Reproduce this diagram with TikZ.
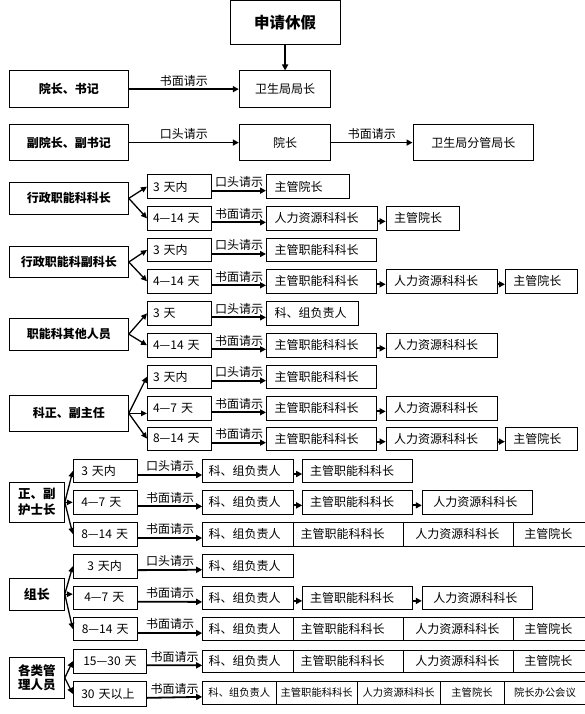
\documentclass[tikz,border=0pt]{standalone}
\usepackage{fontspec}
\setmainfont{Noto Sans CJK SC}
\usetikzlibrary{arrows.meta}
\tikzset{
  box/.style={draw, line width=1pt, inner ysep=0pt, font=\fontsize{12}{14}\selectfont},
  lbl/.style={above, inner sep=2.2pt, font=\fontsize{12}{14}\selectfont},
  arr/.style={line width=1.8pt, -{Triangle[length=6pt,width=6pt]}},
  fan/.style={line width=1.3pt, -{Triangle[length=6pt,width=5.5pt]}},
  hd/.style={font=\bfseries\fontsize{12}{14}\selectfont},
  sm/.style={font=\fontsize{10.3}{12}\selectfont},
}
% left-aligned box: [opts]{name}{x1}{y1}{x2}{y2}{pad}{text}
\newcommand{\bxl}[8][]{\pgfmathsetmacro{\mybw}{#5-#3}\pgfmathsetmacro{\mybh}{#6-#4}\pgfmathsetmacro{\mytw}{#5-#3-2*#7}%
  \node[box, #1, minimum width=\mybw pt, minimum height=\mybh pt, inner xsep=#7pt, text width=\mytw pt, align=left] (#2) at ({(#3+#5)/2},{(#4+#6)/2}) {#8};}
% centred box: [opts]{name}{x1}{y1}{x2}{y2}{text}
\newcommand{\bxc}[7][]{\pgfmathsetmacro{\mybw}{#5-#3}\pgfmathsetmacro{\mybh}{#6-#4}%
  \node[box, #1, minimum width=\mybw pt, minimum height=\mybh pt, inner xsep=1pt, align=center] (#2) at ({(#3+#5)/2},{(#4+#6)/2}) {#7};}
\begin{document}
\begin{tikzpicture}[x=1pt,y=-1pt]
\useasboundingbox (0,0) rectangle (585,714);
\clip (0,0) rectangle (585,714);

% ---------- top ----------
\bxc[font=\bfseries\fontsize{15.5}{18}\selectfont]{top}{230}{0.6}{340.2}{45}{申请休假}
\bxc[hd]{yzsj}{9.3}{71}{128.5}{107.3}{院长、书记}
\bxc{wsj}{239.3}{71}{330.8}{107.3}{卫生局局长}
\bxc[hd]{fyz}{9.3}{124.5}{128.5}{160.7}{副院长、副书记}
\bxc{yz}{239.3}{124.5}{330.8}{160.7}{院长}
\bxc{fgjz}{413}{124.5}{533.5}{160.7}{卫生局分管局长}
\draw[arr] (top.south) -- (top.south |- wsj.north);
\draw[arr] (yzsj.east) -- node[lbl] (l01) {书面请示} (wsj.west);
\draw[arr] (fyz.east) -- node[lbl] (l02) {口头请示} (yz.west);
\draw[arr] (yz.east) -- node[lbl] (l03) {书面请示} (fgjz.west);

% ---------- A ----------
\bxc[hd]{LA}{9.3}{182.7}{128.3}{214}{行政职能科科长}
\bxl{A1}{147.5}{175}{211.5}{198.3}{5.5}{3 天内}
\bxl{A2}{147.5}{206.7}{211.5}{230}{5.5}{4—14 天}
\bxl{A1a}{266.5}{175}{349.5}{198.3}{8}{主管院长}
\bxl{A2a}{266.5}{206.7}{377.6}{230}{8}{人力资源科科长}
\bxl{A2b}{386.2}{206.7}{459.1}{230}{8}{主管院长}
\draw[fan] (LA.east) -- (A1.west);
\draw[fan] (LA.east) -- (A2.west);
\draw[arr] ([yshift=-4pt]A1.east) -- node[lbl] (lA1) {口头请示} ([yshift=-4pt]A1a.west);
\draw[arr] ([yshift=-4pt]A2.east) -- node[lbl] (lA2) {书面请示} ([yshift=-4pt]A2a.west);
\draw[arr] ([yshift=-3pt]A2a.east) -- ([yshift=-3pt]A2b.west);

% ---------- B ----------
\bxc[hd]{LB}{9.3}{246.7}{128.3}{277.3}{行政职能科副科长}
\bxl{B1}{147.5}{238.3}{211.5}{261.7}{5.5}{3 天内}
\bxl{B2}{147.5}{269.3}{211.5}{293.3}{5.5}{4—14 天}
\bxl{B1a}{266.5}{238.3}{376.8}{261.7}{8}{主管职能科科长}
\bxl{B2a}{266.5}{269.3}{376.8}{293.3}{8}{主管职能科科长}
\bxl{B2b}{386.2}{269.3}{497.2}{293.3}{8}{人力资源科科长}
\bxl{B2c}{505.4}{269.3}{577.6}{293.3}{8}{主管院长}
\draw[fan] (LB.east) -- (B1.west);
\draw[fan] (LB.east) -- (B2.west);
\draw[arr] ([yshift=-4pt]B1.east) -- node[lbl] (lB1) {口头请示} ([yshift=-4pt]B1a.west);
\draw[arr] ([yshift=-4pt]B2.east) -- node[lbl] (lB2) {书面请示} ([yshift=-4pt]B2a.west);
\draw[arr] ([yshift=-3pt]B2a.east) -- ([yshift=-3pt]B2b.west);
\draw[arr] ([yshift=-3pt]B2b.east) -- ([yshift=-3pt]B2c.west);

% ---------- C ----------
\bxc[hd]{LC}{9.3}{318.3}{128.3}{350}{职能科其他人员}
\bxl{C1}{147.5}{301.7}{211.5}{325}{5.5}{3 天}
\bxl{C2}{147.5}{333.3}{211.5}{357.3}{5.5}{4—14 天}
\bxl{C1a}{266.5}{301.7}{358.9}{325}{8}{科、组负责人}
\bxl{C2a}{266.5}{333.3}{376.8}{357.3}{8}{主管职能科科长}
\bxl{C2b}{386.2}{333.3}{497.2}{357.3}{8}{人力资源科科长}
\draw[fan] (LC.east) -- (C1.west);
\draw[fan] (LC.east) -- (C2.west);
\draw[arr] ([yshift=-4pt]C1.east) -- node[lbl] (lC1) {口头请示} ([yshift=-4pt]C1a.west);
\draw[arr] ([yshift=-4pt]C2.east) -- node[lbl] (lC2) {书面请示} ([yshift=-4pt]C2a.west);
\draw[arr] ([yshift=-3pt]C2a.east) -- ([yshift=-3pt]C2b.west);

% ---------- D ----------
\bxc[hd]{LD}{9.3}{395}{128.3}{431.7}{科正、副主任}
\bxl{D1}{147.5}{365}{211.5}{388.3}{5.5}{3 天内}
\bxl{D2}{147.5}{396.7}{211.5}{420}{5.5}{4—7 天}
\bxl{D3}{147.5}{427.3}{211.5}{450}{5.5}{8—14 天}
\bxl{D1a}{266.5}{365}{376.8}{388.3}{8}{主管职能科科长}
\bxl{D2a}{266.5}{396.7}{376.8}{420}{8}{主管职能科科长}
\bxl{D2b}{386.2}{396.7}{497.2}{420}{8}{人力资源科科长}
\bxl{D3a}{266.5}{427.3}{376.8}{450}{8}{主管职能科科长}
\bxl{D3b}{386.2}{427.3}{497.2}{450}{8}{人力资源科科长}
\bxl{D3c}{505.4}{427.3}{577.6}{450}{8}{主管院长}
\draw[fan] (LD.east) -- (D1.west);
\draw[fan] (LD.east) -- (LD.east -| D2.west);
\draw[fan] (LD.east) -- (D3.west);
\draw[arr] ([yshift=-4pt]D1.east) -- node[lbl] (lD1) {口头请示} ([yshift=-4pt]D1a.west);
\draw[arr] ([yshift=-4pt]D2.east) -- node[lbl] (lD2) {书面请示} ([yshift=-4pt]D2a.west);
\draw[arr] ([yshift=-4pt]D3.east) -- node[lbl] (lD3) {书面请示} ([yshift=-4pt]D3a.west);
\draw[arr] ([yshift=-3pt]D2a.east) -- ([yshift=-3pt]D2b.west);
\draw[arr] ([yshift=-3pt]D3a.east) -- ([yshift=-3pt]D3b.west);
\draw[arr] ([yshift=-3pt]D3b.east) -- ([yshift=-3pt]D3c.west);

% ---------- E ----------
\bxc[font=\bfseries\fontsize{12.5}{16}\selectfont]{LE}{9.3}{482.7}{64.3}{522}{正、副\\护士长}
\bxl{E1}{73.3}{459.3}{137.3}{482.7}{8}{3 天内}
\bxl{E2}{73.3}{490.7}{137.3}{514}{8}{4—7 天}
\bxl{E3}{73.3}{522}{137.3}{546}{8}{8—14 天}
\bxl{E1a}{202.7}{459.3}{293.3}{482.7}{6}{科、组负责人}
\bxl{E1b}{302.7}{459.3}{412.3}{482.7}{7.5}{主管职能科科长}
\bxl{E2a}{202.7}{490.7}{293.3}{514}{6}{科、组负责人}
\bxl{E2b}{302.7}{490.7}{412.3}{514}{7.5}{主管职能科科长}
\bxl{E2c}{422.3}{490.7}{532.3}{514}{11}{人力资源科科长}
\bxl{E3a}{202.7}{522}{293.3}{546}{6}{科、组负责人}
\bxl{E3b}{293.3}{522}{403.3}{546}{7.4}{主管职能科科长}
\bxl{E3c}{403.3}{522}{513.3}{546}{12}{人力资源科科长}
\bxl{E3d}{513.3}{522}{585.8}{546}{11}{主管院长}
\draw[fan] (LE.east) -- (E1.west);
\draw[fan] (LE.east) -- (LE.east -| E2.west);
\draw[fan] (LE.east) -- (E3.west);
\draw[arr] ([yshift=-4pt]E1.east) -- node[lbl] (lE1) {口头请示} ([yshift=-4pt]E1a.west);
\draw[arr] ([yshift=-4pt]E2.east) -- node[lbl] (lE2) {书面请示} ([yshift=-4pt]E2a.west);
\draw[arr] ([yshift=-4pt]E3.east) -- node[lbl] (lE3) {书面请示} ([yshift=-4pt]E3a.west);
\draw[arr] ([yshift=-3pt]E1a.east) -- ([yshift=-3pt]E1b.west);
\draw[arr] ([yshift=-3pt]E2a.east) -- ([yshift=-3pt]E2b.west);
\draw[arr] ([yshift=-3pt]E2b.east) -- ([yshift=-3pt]E2c.west);

% ---------- F ----------
\bxc[font=\bfseries\fontsize{13}{15}\selectfont]{LF}{9.3}{578.3}{64.3}{610}{组长}
\bxl{F1}{73.3}{554}{137.3}{578.3}{14}{3 天内}
\bxl{F2}{73.3}{586}{137.3}{609.3}{11}{4—7 天}
\bxl{F3}{73.3}{617.3}{137.3}{640.7}{8.5}{8—14 天}
\bxl{F1a}{202.7}{554}{293.3}{577.5}{6}{科、组负责人}
\bxl{F2a}{202.7}{586.5}{293.3}{609.3}{6}{科、组负责人}
\bxl{F2b}{302.7}{586.5}{412.3}{609.3}{7.5}{主管职能科科长}
\bxl{F2c}{422.3}{586.5}{532.3}{609.3}{11}{人力资源科科长}
\bxl{F3a}{202.7}{617.5}{293.3}{640.7}{6}{科、组负责人}
\bxl{F3b}{293.3}{617.5}{403.3}{640.7}{7.4}{主管职能科科长}
\bxl{F3c}{403.3}{617.5}{513.3}{640.7}{12}{人力资源科科长}
\bxl{F3d}{513.3}{617.5}{585.8}{640.7}{11}{主管院长}
\draw[fan] (LF.east) -- (F1.west);
\draw[fan] (LF.east) -- (LF.east -| F2.west);
\draw[fan] (LF.east) -- (F3.west);
\draw[arr] ([yshift=-4pt]F1.east) -- node[lbl] (lF1) {口头请示} ([yshift=-4pt]F1a.west);
\draw[arr] ([yshift=-4pt]F2.east) -- node[lbl] (lF2) {书面请示} ([yshift=-4pt]F2a.west);
\draw[arr] ([yshift=-4pt]F3.east) -- node[lbl] (lF3) {书面请示} ([yshift=-4pt]F3a.west);
\draw[arr] ([yshift=-3pt]F2a.east) -- ([yshift=-3pt]F2b.west);
\draw[arr] ([yshift=-3pt]F2b.east) -- ([yshift=-3pt]F2c.west);

% ---------- G ----------
\bxc[font=\bfseries\fontsize{12.5}{13.5}\selectfont]{LG}{9.3}{657.3}{64.3}{698.3}{各类管\\理人员}
\bxl{G1}{73.3}{649}{146.7}{673.3}{10}{15—30 天}
\bxl{G2}{73.3}{681.7}{146.7}{706}{8}{30 天以上}
\bxl{G1a}{202.7}{650}{293.3}{672.7}{6}{科、组负责人}
\bxl{G1b}{293.3}{650}{403.3}{672.7}{7.4}{主管职能科科长}
\bxl{G1c}{403.3}{650}{513.3}{672.7}{12}{人力资源科科长}
\bxl{G1d}{513.3}{650}{585.8}{672.7}{11}{主管院长}
\bxc[sm]{G2a}{202.7}{681.7}{276}{704}{科、组负责人}
\bxc[sm]{G2b}{276}{681.7}{357.3}{704}{主管职能科科长}
\bxc[sm]{G2c}{357.3}{681.7}{440}{704}{人力资源科科长}
\bxc[sm]{G2d}{440}{681.7}{504}{704}{主管院长}
\bxc[sm]{G2e}{504}{681.7}{585.8}{704}{院长办公会议}
\draw[fan] (LG.east) -- (G1.west);
\draw[fan] (LG.east) -- (G2.west);
\draw[arr] ([yshift=-4pt]G1.east) -- node[lbl] (lG1) {书面请示} ([yshift=-4pt]G1a.west);
\draw[arr] ([yshift=-4pt]G2.east) -- node[lbl] (lG2) {书面请示} ([yshift=-4pt]G2a.west);
\end{tikzpicture}
\end{document}
